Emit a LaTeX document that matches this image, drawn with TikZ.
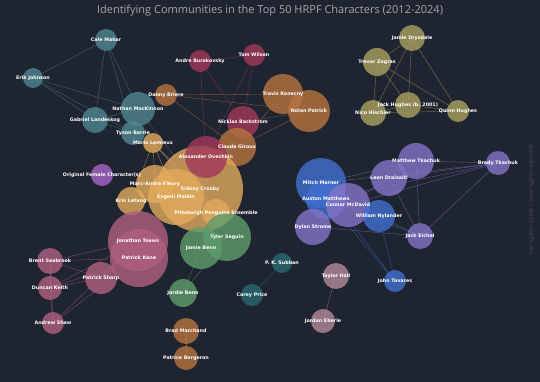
\documentclass[tikz,border=0pt]{standalone}
\usepackage{xcolor}
\usepackage{fontspec}
\setmainfont{DejaVu Sans}
\newfontfamily\titlefont{Open Sans}
\usetikzlibrary{backgrounds}

\definecolor{bgcol}{HTML}{1E2430}
\definecolor{teal1}{HTML}{4F8690}
\definecolor{caps}{HTML}{A0385A}
\definecolor{flyers}{HTML}{B87440}
\definecolor{pens}{HTML}{E2AA5C}
\definecolor{devils}{HTML}{AAA060}
\definecolor{oilers}{HTML}{8474C8}
\definecolor{leafs}{HTML}{4170D0}
\definecolor{hawks}{HTML}{B0607E}
\definecolor{stars}{HTML}{5F9C6C}
\definecolor{habs}{HTML}{2A6870}
\definecolor{hall1}{HTML}{B48A9A}
\definecolor{ofc1}{HTML}{A866C8}
\definecolor{edgegrey}{HTML}{7A7060}

\begin{document}
\begin{tikzpicture}[x=1pt, y=-1pt,
    nd/.style={circle, draw=none, inner sep=0pt, fill=#1, fill opacity=.8},
    ed/.style={draw=#1, line width=.45pt, draw opacity=.6},
    lbl/.style={text=white, inner sep=0pt, font=\fontsize{4.8}{5}\selectfont\bfseries},
    ttl/.style={text=gray!70, font=\titlefont\fontsize{11}{12}\selectfont}]
  \useasboundingbox (0,0) rectangle (540,382);
  \node[ttl] (title) at (270,11) {Identifying Communities in the Top 50 HRPF Characters (2012-2024)};
  \node[text=gray!40!bgcol, rotate=-90, font=\fontsize{5.6}{6}\selectfont] (credit) at (531,200) {@tumblr-coefficients | @ao3-coefficient};

  % circles
  \node[nd=teal1, minimum size=22] (makar) at (106,40) {};
  \node[nd=teal1, minimum size=20] (erik) at (33,78) {};
  \node[nd=teal1, minimum size=34] (mackinnon) at (138,109) {};
  \node[nd=teal1, minimum size=26] (landeskog) at (95,120) {};
  \node[nd=teal1, minimum size=24] (barrie) at (133,133) {};
  \node[nd=caps, minimum size=22] (burakovsky) at (200,61) {};
  \node[nd=caps, minimum size=22] (wilson) at (254,55) {};
  \node[nd=caps, minimum size=32] (backstrom) at (243,122) {};
  \node[nd=flyers, minimum size=22] (briere) at (166,95) {};
  \node[nd=flyers, minimum size=40] (konecny) at (283,94) {};
  \node[nd=flyers, minimum size=42] (npatrick) at (309,111) {};
  \node[nd=flyers, minimum size=38] (giroux) at (237,147) {};
  \node[nd=pens, minimum size=20] (lemieux) at (153,143) {};
  \node[nd=pens, minimum size=38] (fleury) at (155,184) {};
  \node[nd=pens, minimum size=86] (crosby) at (200,189) {};
  \node[nd=pens, minimum size=56] (malkin) at (176,197) {};
  \node[nd=pens, minimum size=28] (letang) at (131,201) {};
  \node[nd=pens, minimum size=28] (ensemble) at (216,213) {};
  \node[nd=caps, minimum size=42] (ovechkin) at (206,157) {};
  \node[nd=devils, minimum size=26] (drysdale) at (412,38) {};
  \node[nd=devils, minimum size=28] (zegras) at (377,62) {};
  \node[nd=devils, minimum size=26] (jhughes) at (408,105) {};
  \node[nd=devils, minimum size=26] (hischier) at (373,113) {};
  \node[nd=devils, minimum size=22] (qhughes) at (458,111) {};
  \node[nd=oilers, minimum size=36] (mtkachuk) at (416,161) {};
  \node[nd=oilers, minimum size=36] (draisaitl) at (389,178) {};
  \node[nd=oilers, minimum size=24] (btkachuk) at (498,163) {};
  \node[nd=leafs, minimum size=50] (marner) at (321,183) {};
  \node[nd=leafs, minimum size=40] (matthews) at (326,199) {};
  \node[nd=oilers, minimum size=44] (mcdavid) at (348,205) {};
  \node[nd=oilers, minimum size=36] (strome) at (313,227) {};
  \node[nd=leafs, minimum size=32] (nylander) at (379,216) {};
  \node[nd=oilers, minimum size=26] (eichel) at (420,236) {};
  \node[nd=leafs, minimum size=22] (tavares) at (395,281) {};
  \node[nd=hawks, minimum size=60] (toews) at (138,241) {};
  \node[nd=hawks, minimum size=58] (kane) at (139,258) {};
  \node[nd=hawks, minimum size=26] (seabrook) at (50,261) {};
  \node[nd=hawks, minimum size=24] (keith) at (50,288) {};
  \node[nd=hawks, minimum size=32] (sharp) at (101,278) {};
  \node[nd=hawks, minimum size=22] (shaw) at (53,323) {};
  \node[nd=stars, minimum size=42] (jbenn) at (201,248) {};
  \node[nd=stars, minimum size=48] (seguin) at (227,237) {};
  \node[nd=stars, minimum size=28] (jordie) at (183,293) {};
  \node[nd=habs, minimum size=20] (subban) at (282,263) {};
  \node[nd=habs, minimum size=22] (price) at (252,295) {};
  \node[nd=hall1, minimum size=26] (hall) at (336,276) {};
  \node[nd=hall1, minimum size=24] (eberle) at (323,321) {};
  \node[nd=flyers, minimum size=26] (marchand) at (186,331) {};
  \node[nd=flyers, minimum size=24] (bergeron) at (186,358) {};
  \node[nd=ofc1, minimum size=22] (ofc) at (102,175) {};

  % edges
  \begin{scope}[on background layer]
    \fill[bgcol] (0,0) rectangle (540,382);
    \foreach \a/\b in {makar/erik, makar/mackinnon, makar/landeskog, makar/barrie,
        erik/mackinnon, erik/landeskog, erik/barrie, landeskog/mackinnon,
        landeskog/barrie, mackinnon/barrie}
      \draw[ed=teal1] (\a.center) -- (\b.center);
    \foreach \a/\b in {burakovsky/wilson, burakovsky/backstrom, burakovsky/ovechkin,
        wilson/backstrom, wilson/ovechkin, backstrom/ovechkin}
      \draw[ed=caps] (\a.center) -- (\b.center);
    \foreach \a/\b in {briere/konecny, briere/npatrick, briere/giroux,
        konecny/npatrick, konecny/giroux, npatrick/giroux, marchand/bergeron}
      \draw[ed=flyers] (\a.center) -- (\b.center);
    \foreach \a/\b in {lemieux/crosby, lemieux/malkin, lemieux/fleury, lemieux/letang,
        lemieux/ensemble, fleury/crosby, fleury/malkin, fleury/letang,
        letang/crosby, letang/malkin, crosby/malkin, crosby/ensemble, malkin/ensemble}
      \draw[ed=pens] (\a.center) -- (\b.center);
    \foreach \a/\b in {ovechkin/crosby, giroux/crosby, mackinnon/crosby,
        backstrom/npatrick, giroux/ovechkin}
      \draw[ed=edgegrey] (\a.center) -- (\b.center);
    \foreach \a/\b in {drysdale/zegras, drysdale/jhughes, drysdale/hischier,
        drysdale/qhughes, zegras/hischier, zegras/jhughes, zegras/qhughes,
        hischier/jhughes, hischier/qhughes, jhughes/qhughes}
      \draw[ed=devils] (\a.center) -- (\b.center);
    \foreach \a/\b in {mtkachuk/btkachuk, mtkachuk/eichel, btkachuk/eichel,
        btkachuk/draisaitl, btkachuk/mcdavid, btkachuk/marner, btkachuk/matthews,
        draisaitl/mcdavid, draisaitl/eichel, strome/mcdavid, strome/eichel,
        mtkachuk/marner, matthews/eichel}
      \draw[ed=oilers] (\a.center) -- (\b.center);
    \foreach \a/\b in {marner/matthews, mcdavid/marner, mcdavid/matthews,
        matthews/nylander, marner/nylander, nylander/eichel,
        matthews/tavares, marner/tavares, nylander/tavares}
      \draw[ed=leafs] (\a.center) -- (\b.center);
    \foreach \a/\b in {toews/kane, toews/seabrook, toews/keith, toews/sharp,
        toews/shaw, kane/seabrook, kane/keith, kane/sharp, kane/shaw,
        seabrook/keith, seabrook/sharp, keith/sharp, keith/shaw, seabrook/shaw}
      \draw[ed=hawks] (\a.center) -- (\b.center);
    \foreach \a/\b in {jbenn/seguin, jbenn/jordie, seguin/jordie}
      \draw[ed=stars] (\a.center) -- (\b.center);
    \draw[ed=habs] (subban.center) -- (price.center);
    \draw[ed=hall1] (hall.center) -- (eberle.center);
  \end{scope}

  % labels
  \foreach \n/\t in {makar/Cale Makar, erik/Erik Johnson, mackinnon/Nathan MacKinnon,
      landeskog/Gabriel Landeskog, barrie/Tyson Barrie, burakovsky/Andre Burakovsky,
      wilson/Tom Wilson, backstrom/Nicklas Backstrom, briere/Danny Briere,
      konecny/Travis Konecny, npatrick/Nolan Patrick, giroux/Claude Giroux,
      lemieux/Mario Lemieux, fleury/Marc-Andre Fleury, crosby/Sidney Crosby,
      malkin/Evgeni Malkin, letang/Kris Letang, ensemble/Pittsburgh Penguins Ensemble,
      ovechkin/Alexander Ovechkin, drysdale/Jamie Drysdale, zegras/Trevor Zegras,
      jhughes/Jack Hughes (b. 2001), hischier/Nico Hischier, qhughes/Quinn Hughes,
      mtkachuk/Matthew Tkachuk, draisaitl/Leon Draisaitl, btkachuk/Brady Tkachuk,
      marner/Mitch Marner, matthews/Auston Matthews, mcdavid/Connor McDavid,
      strome/Dylan Strome, nylander/William Nylander, eichel/Jack Eichel,
      tavares/John Tavares, toews/Jonathan Toews, kane/Patrick Kane,
      seabrook/Brent Seabrook, keith/Duncan Keith, sharp/Patrick Sharp,
      shaw/Andrew Shaw, jbenn/Jamie Benn, seguin/Tyler Seguin, jordie/Jordie Benn,
      subban/P. K. Subban, price/Carey Price, hall/Taylor Hall, eberle/Jordan Eberle,
      marchand/Brad Marchand, bergeron/Patrice Bergeron, ofc/Original Female Character(s)}
    \node[lbl] at (\n) {\t};
\end{tikzpicture}
\end{document}
